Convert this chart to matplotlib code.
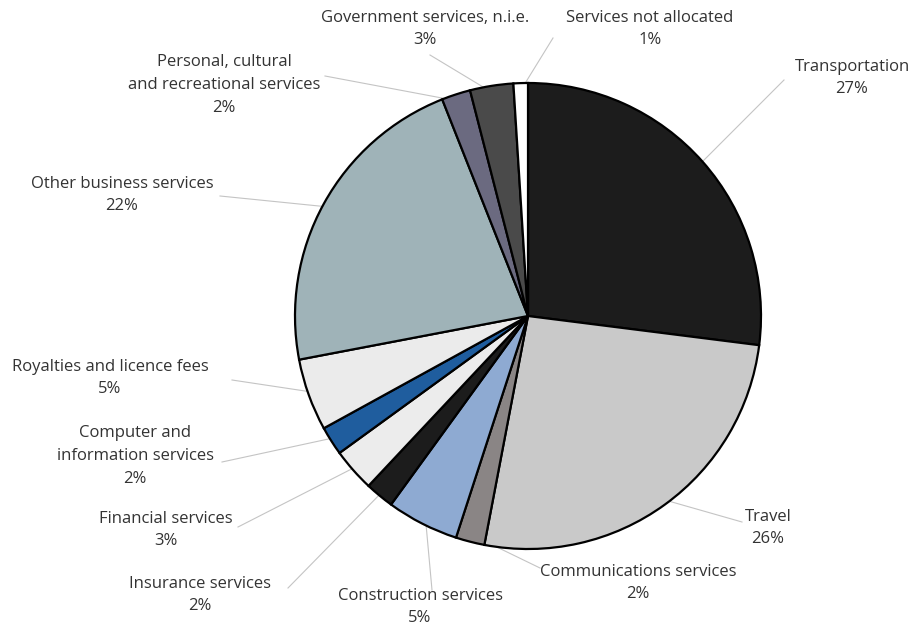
import matplotlib
matplotlib.use("Agg")
import matplotlib.pyplot as plt
import numpy as np

categories = ["Transportation", "Travel", "Communications services", "Construction services",
              "Insurance services", "Financial services", "Computer and\ninformation services",
              "Royalties and licence fees", "Other business services",
              "Personal, cultural\nand recreational services", "Government services, n.i.e.",
              "Services not allocated"]
values = [27, 26, 2, 5, 2, 3, 2, 5, 22, 2, 3, 1]
colors = ["#1c1c1c", "#c9c9c9", "#8a8585", "#8eaad2", "#1c1c1c", "#ececec", "#1f5d9e",
          "#ebebeb", "#9fb3b8", "#6b6a80", "#4a4a4a", "#ffffff"]

# label text centres and leader-line endpoints, in figure pixels (layout only)
label_px = [(852, 78), (768, 528), (638, 583), (420, 607), (200, 595), (166, 530),
            (135, 456), (110, 378), (122, 195), (224, 85), (425, 29), (650, 29)]
line_start_px = [(784, 80), (742, 522), (540, 568), (432, 590), (288, 588), (238, 527),
                 (222, 462), (232, 380), (220, 196), (325, 76), (430, 55), (553, 38)]

W, H = 913, 633
fig = plt.figure(figsize=(W / 100, H / 100), dpi=100)
cx, cy, R = 528, 316, 233
ax = fig.add_axes([(cx - R) / W, (H - cy - R) / H, 2 * R / W, 2 * R / H])
wedges, _ = ax.pie(values, colors=colors, startangle=90, counterclock=False, radius=1,
                   wedgeprops=dict(edgecolor="black", linewidth=1.6))
ax.set_xlim(-1, 1)
ax.set_ylim(-1, 1)
ax.set_aspect("equal")
ax.axis("off")

def to_data(p):
    return ((p[0] - cx) / R, (cy - p[1]) / R)

for i, (cat, v) in enumerate(zip(categories, values)):
    w = wedges[i]
    ang = np.deg2rad((w.theta1 + w.theta2) / 2)
    edge = (0.97 * np.cos(ang), 0.97 * np.sin(ang))
    ls = to_data(line_start_px[i])
    ax.plot([ls[0], edge[0]], [ls[1], edge[1]], color="#c4c4c4", lw=0.8, clip_on=False, zorder=0)
    lp = to_data(label_px[i])
    ax.text(lp[0], lp[1], f"{cat}\n{v}%", ha="center", va="center", fontsize=12,
            color="#333333", linespacing=1.58, family="Open Sans")

fig.savefig("out.png", dpi=100)
